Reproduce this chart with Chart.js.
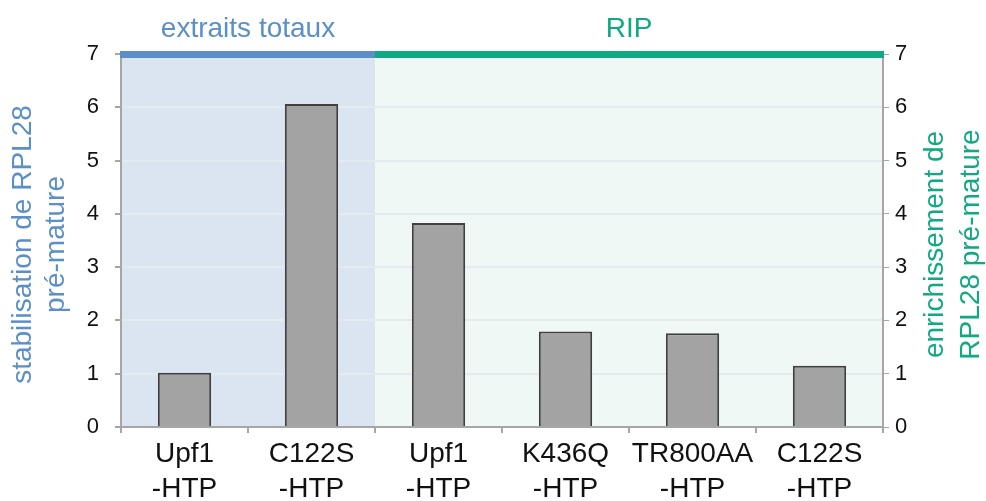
<!DOCTYPE html>
<html>
<head>
<meta charset="utf-8">
<script src="https://cdn.jsdelivr.net/npm/chart.js@4.4.1/dist/chart.umd.min.js"></script>
<style>
  html, body { margin: 0; padding: 0; background: #fff; }
  #wrap { width: 986px; height: 501px; }
</style>
</head>
<body>
<div id="wrap"><canvas id="graf"></canvas></div>
<script>
// donnees
var categories = [['Upf1', '-HTP'], ['C122S', '-HTP'], ['Upf1', '-HTP'], ['K436Q', '-HTP'], ['TR800AA', '-HTP'], ['C122S', '-HTP']]
var valeurs = [1.02, 6.06, 3.83, 1.79, 1.76, 1.15]
var ticks_y = [0, 1, 2, 3, 4, 5, 6, 7]
var groupes = ['extraits totaux', 'RIP']
var groupe_fin = [1, 5]   // dernier index de chaque groupe
var titre_gauche = ['stabilisation de RPL28', 'pré-mature']
var titre_droite = ['enrichissement de', 'RPL28 pré-mature']

var bleu = '#5b8fc8'
var vert = '#10a984'
var fonte = '"Liberation Sans", Arial, sans-serif'

var fonds = {
    id: 'fonds',
    beforeDraw: function(chart){
        var ctx = chart.ctx
        var a = chart.chartArea
        var x = chart.scales.x
        var lim = (x.getPixelForValue(groupe_fin[0]) + x.getPixelForValue(groupe_fin[0] + 1)) / 2
        ctx.save()
        ctx.fillStyle = '#dbe5f1'
        ctx.fillRect(a.left, a.top, lim - a.left, a.bottom - a.top)
        ctx.fillStyle = '#eff8f5'
        ctx.fillRect(lim, a.top, a.right - lim, a.bottom - a.top)
        ctx.restore()
    },
    afterDraw: function(chart){
        var ctx = chart.ctx
        var a = chart.chartArea
        var x = chart.scales.x
        var lim = (x.getPixelForValue(groupe_fin[0]) + x.getPixelForValue(groupe_fin[0] + 1)) / 2
        ctx.save()
        // barres de couleur en haut
        ctx.fillStyle = bleu
        ctx.fillRect(a.left - 1, a.top - 3, lim - a.left + 1, 7)
        ctx.fillStyle = vert
        ctx.fillRect(lim, a.top - 3, a.right - lim + 1, 7)
        // etiquettes des groupes
        ctx.font = '28px ' + fonte
        ctx.textAlign = 'center'
        ctx.textBaseline = 'alphabetic'
        ctx.fillStyle = bleu
        ctx.fillText(groupes[0], (a.left + lim) / 2, 37)
        ctx.fillStyle = vert
        ctx.fillText(groupes[1], (lim + a.right) / 2, 37)
        // titres des axes
        var cy = (a.top + a.bottom) / 2 + 4
        ctx.font = '28px ' + fonte
        ctx.textBaseline = 'middle'
        ctx.fillStyle = bleu
        ctx.save()
        ctx.translate(23, cy)
        ctx.rotate(-Math.PI / 2)
        ctx.fillText(titre_gauche[0], 0, 0)
        ctx.fillText(titre_gauche[1], 0, 33)
        ctx.restore()
        ctx.fillStyle = vert
        ctx.save()
        ctx.translate(935, cy)
        ctx.rotate(-Math.PI / 2)
        ctx.fillText(titre_droite[0], 0, 0)
        ctx.fillText(titre_droite[1], 0, 36)
        ctx.restore()
        ctx.restore()
    }
}

const ctx = document.getElementById('graf').getContext('2d');
const myChart = new Chart(ctx, {
    type: 'bar',
    data: {
        labels: categories,
        datasets: [{
            data: valeurs,
            backgroundColor: '#a3a3a3',
            borderColor: '#404040',
            borderWidth: 2,
            barPercentage: 0.42,
            categoryPercentage: 1.0
        }]
    },
    options: {
        responsive: true,
        maintainAspectRatio: false,
        animation: false,
        layout: { padding: { top: 54, left: 0, right: 0, bottom: 0 } },
        plugins: {
            legend: { display: false },
            tooltip: { enabled: false }
        },
        scales: {
            x: {
                grid: { display: true, drawOnChartArea: false, drawTicks: true, tickLength: 6, color: '#a6a6a6', lineWidth: 2 },
                border: { color: '#a6a6a6', width: 2 },
                ticks: { color: '#111', font: { family: fonte, size: 28, lineHeight: 1.25 }, padding: 4, maxRotation: 0 },
                afterFit: function(s){ s.height = 74 }
            },
            y: {
                position: 'left',
                min: 0, max: 7,
                afterBuildTicks: function(s){ s.ticks = ticks_y.map(function(v){ return {value: v} }) },
                grid: { color: '#e4ebef', lineWidth: 2, tickLength: 6, tickColor: '#a6a6a6' },
                border: { color: '#a6a6a6', width: 2 },
                ticks: { color: '#111', font: { family: fonte, size: 22 }, padding: 16 },
                afterFit: function(s){ s.width = 121 }
            },
            y2: {
                position: 'right',
                min: 0, max: 7,
                afterBuildTicks: function(s){ s.ticks = ticks_y.map(function(v){ return {value: v} }) },
                grid: { drawOnChartArea: false, tickLength: 6, color: '#a6a6a6' },
                border: { color: '#a6a6a6', width: 2 },
                ticks: { color: '#111', font: { family: fonte, size: 22 }, padding: 6 },
                afterFit: function(s){ s.width = 103 }
            }
        }
    },
    plugins: [fonds]
});
</script>
</body>
</html>
